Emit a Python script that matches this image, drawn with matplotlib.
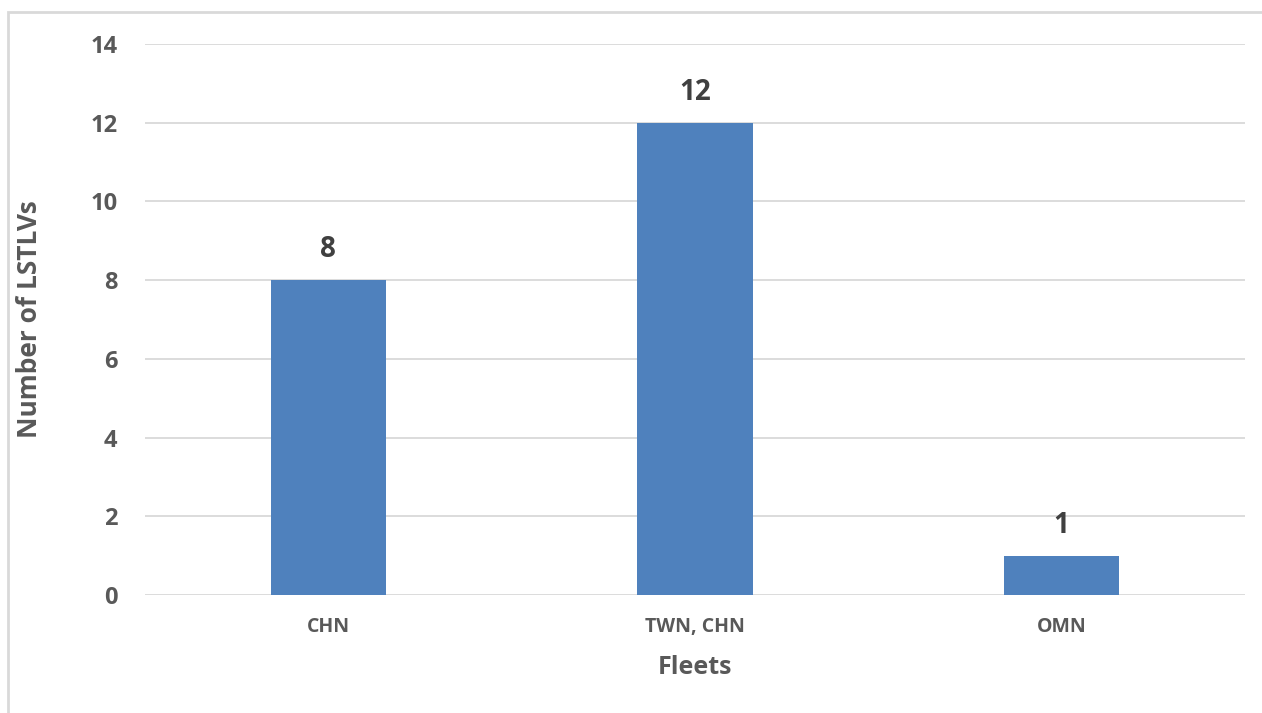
import numpy as np
import matplotlib
matplotlib.use("Agg")
import matplotlib.pyplot as plt
from matplotlib.patches import Rectangle

fleets = ["CHN", "TWN, CHN", "OMN"]
counts = [8, 12, 1]
yticks = [0, 2, 4, 6, 8, 10, 12, 14]

plt.rcParams['font.family'] = ['Open Sans', 'DejaVu Sans']
plt.rcParams['font.weight'] = 'bold'

fig = plt.figure(figsize=(12.62, 7.13), dpi=100)
ax = fig.add_axes([145/1262, 1 - 595/713, 1100/1262, 551/713])

x = np.arange(len(fleets))
bars = ax.bar(x, counts, width=0.314, color="#4F81BD", zorder=3)

for xi, c in zip(x, counts):
    ax.text(xi, c + 0.4, str(c), ha="center", va="bottom",
            fontsize=20, fontweight="bold", color="#404040")

ax.set_xlim(-0.5, 2.5)
ax.set_ylim(0, 14)
ax.set_yticks(yticks)
ax.set_xticks(x)
ax.set_xticklabels(fleets)
ax.yaxis.grid(True, color="#D9D9D9", linewidth=1.3, zorder=0)
for s in ax.spines.values():
    s.set_visible(False)
ax.tick_params(axis="both", length=0, colors="#595959")
ax.tick_params(axis="y", labelsize=17, pad=20)
ax.tick_params(axis="x", labelsize=14, pad=16)
for lab in ax.get_xticklabels() + ax.get_yticklabels():
    lab.set_fontweight("bold")

ax.set_xlabel("Fleets", fontsize=18, fontweight="bold", color="#595959", labelpad=13)
ax.set_ylabel("Number of LSTLVs", fontsize=19, fontweight="bold", color="#595959", labelpad=34)

# outer chart border (only top and left fall inside the image)
fig.patches.append(Rectangle((8/1262, -0.1), 1.2, 1 - 12.5/713 + 0.1,
                             transform=fig.transFigure, fill=False,
                             edgecolor="#D9D9D9", linewidth=2))

fig.savefig("out.png", dpi=100)
